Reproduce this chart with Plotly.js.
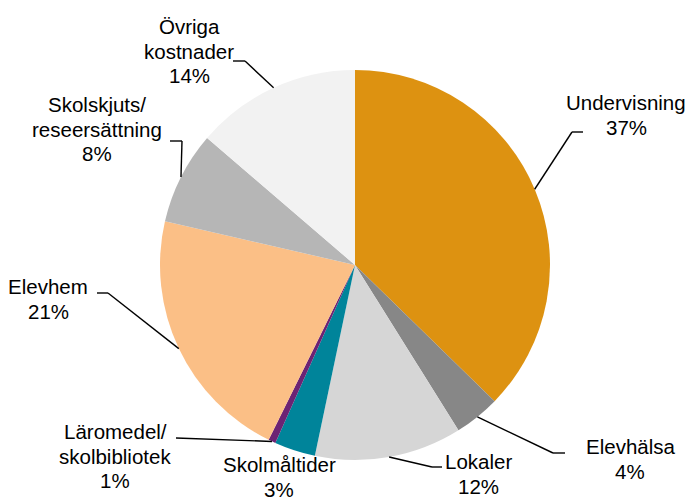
<!DOCTYPE html>
<html><head><meta charset="utf-8">
<script src="https://cdn.plot.ly/plotly-3.0.1.min.js"></script>
<style>html,body{margin:0;padding:0;background:#fff}#chart{width:693px;height:502px}</style>
</head><body><div id="chart"></div>
<script>
// ---- data ----
const categories = ["Undervisning", "Elevhälsa", "Lokaler", "Skolmåltider",
  "Läromedel/<br>skolbibliotek", "Elevhem", "Skolskjuts/<br>reseersättning", "Övriga<br>kostnader"];
const shares = [37.3, 3.8, 12.2, 3.4, 0.6, 21.3, 7.7, 13.7];
const sliceColors = ["#DD9211", "#878787", "#D6D6D6", "#00849A", "#6C2374", "#FBBF86", "#B6B6B6", "#F2F2F2"];

// ---- layout (pixels) ----
const W = 693, H = 502;
const cx = 355, cy = 265, R = 195;
const lineGap = 24.5;
const labelPos = [[626,115],[630,459],[478,474],[279,477],[115,456],[48,299],[97,129],[189,51]];
const leaderElbows = [
  [[583,132],[572,132]],
  [[565,453],[553,453]],
  [[442,467],[432,467]],
  null,
  [[176,438]],
  [[97,293],[108,293]],
  [[170,141],[182,141]],
  [[233,61],[245,61]]
];

const px = x => x / W;
const py = y => 1 - y / H;

const total = shares.reduce((a, b) => a + b, 0);
let cum = 0;
const midAngles = shares.map(v => { const m = (cum + v / 2) / total * 360; cum += v; return m; });

const annotations = [];
categories.forEach((c, i) => {
  const lines = c.split('<br>').concat([Math.round(shares[i] / total * 100) + '%']);
  const n = lines.length;
  lines.forEach((t, j) => {
    annotations.push({
      xref: 'paper', yref: 'paper', x: px(labelPos[i][0]),
      y: py(labelPos[i][1] + (j - (n - 1) / 2) * lineGap),
      xanchor: 'center', yanchor: 'middle', showarrow: false, borderpad: 0,
      text: t, font: {family: 'Liberation Sans, Arial, sans-serif', size: 20.5, color: '#000'}
    });
  });
});

const shapes = [];
leaderElbows.forEach((pts, i) => {
  if (!pts) return;
  const a = midAngles[i] * Math.PI / 180;
  const edge = [cx + R * Math.sin(a), cy - R * Math.cos(a)];
  const all = pts.concat([edge]);
  for (let k = 0; k < all.length - 1; k++) {
    shapes.push({type: 'line', xref: 'paper', yref: 'paper',
      x0: px(all[k][0]), y0: py(all[k][1]), x1: px(all[k+1][0]), y1: py(all[k+1][1]),
      line: {color: '#000', width: 1.4}});
  }
});

const trace = {
  type: 'pie', labels: categories, values: shares, sort: false, direction: 'clockwise', rotation: 0,
  marker: {colors: sliceColors, line: {width: 0}},
  textinfo: 'none', hoverinfo: 'skip',
  domain: {x: [px(cx - R), px(cx + R)], y: [py(cy + R), py(cy - R)]}
};

Plotly.newPlot('chart', [trace], {
  width: W, height: H, margin: {l: 0, r: 0, t: 0, b: 0},
  paper_bgcolor: '#fff', showlegend: false, annotations, shapes
}, {staticPlot: true});
</script></body></html>
